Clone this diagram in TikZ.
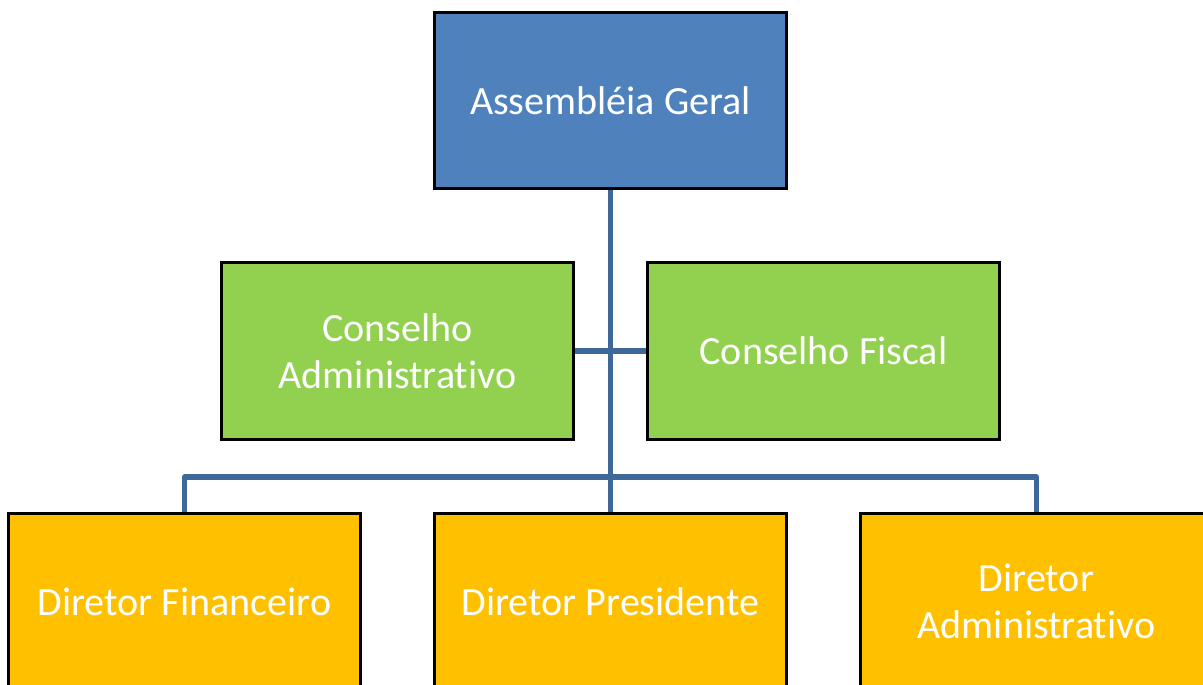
\documentclass[tikz,border=0pt]{standalone}
\usepackage{fontspec}
\setmainfont{Carlito}[Ligatures=NoCommon]
\usepackage{tikz}
\definecolor{agblue}{RGB}{79,129,189}
\definecolor{cgreen}{RGB}{146,208,80}
\definecolor{dorange}{RGB}{255,192,0}
\definecolor{linkblue}{RGB}{63,104,154}

\begin{document}
\begin{tikzpicture}[x=0.02cm,y=-0.02cm]
\tikzstyle{every node}=[draw=black,line width=1.7pt,shape=rectangle,minimum width=7.06cm,minimum height=3.54cm,text=white,align=center,font=\fontsize{22.8}{27}\selectfont];
\tikzstyle{link}=[draw=linkblue,line width=3pt,line join=round];
\useasboundingbox (0,0) rectangle (1203,684);
\clip (0,0) rectangle (1203,684);
\node[fill=agblue] (ag) at (610.5,100.5) {Assembléia Geral};
\node[fill=cgreen] (ca) at (397.5,351) {Conselho\\Administrativo};
\node[fill=cgreen] (cf) at (823.5,351) {Conselho Fiscal};
\node[fill=dorange] (df) at (184.5,601.5) {Diretor Financeiro};
\node[fill=dorange] (dp) at (610.5,601.5) {Diretor Presidente};
\node[fill=dorange] (da) at (1036.5,601.5) {Diretor\\Administrativo};
\coordinate (bus) at (610.5,477);
\draw[link] (ag.south) -- (dp.north);
\draw[link] (ca.east) -- (cf.west);
\draw[link] (df.north) |- (bus) -| (da.north);
\end{tikzpicture}
\end{document}
